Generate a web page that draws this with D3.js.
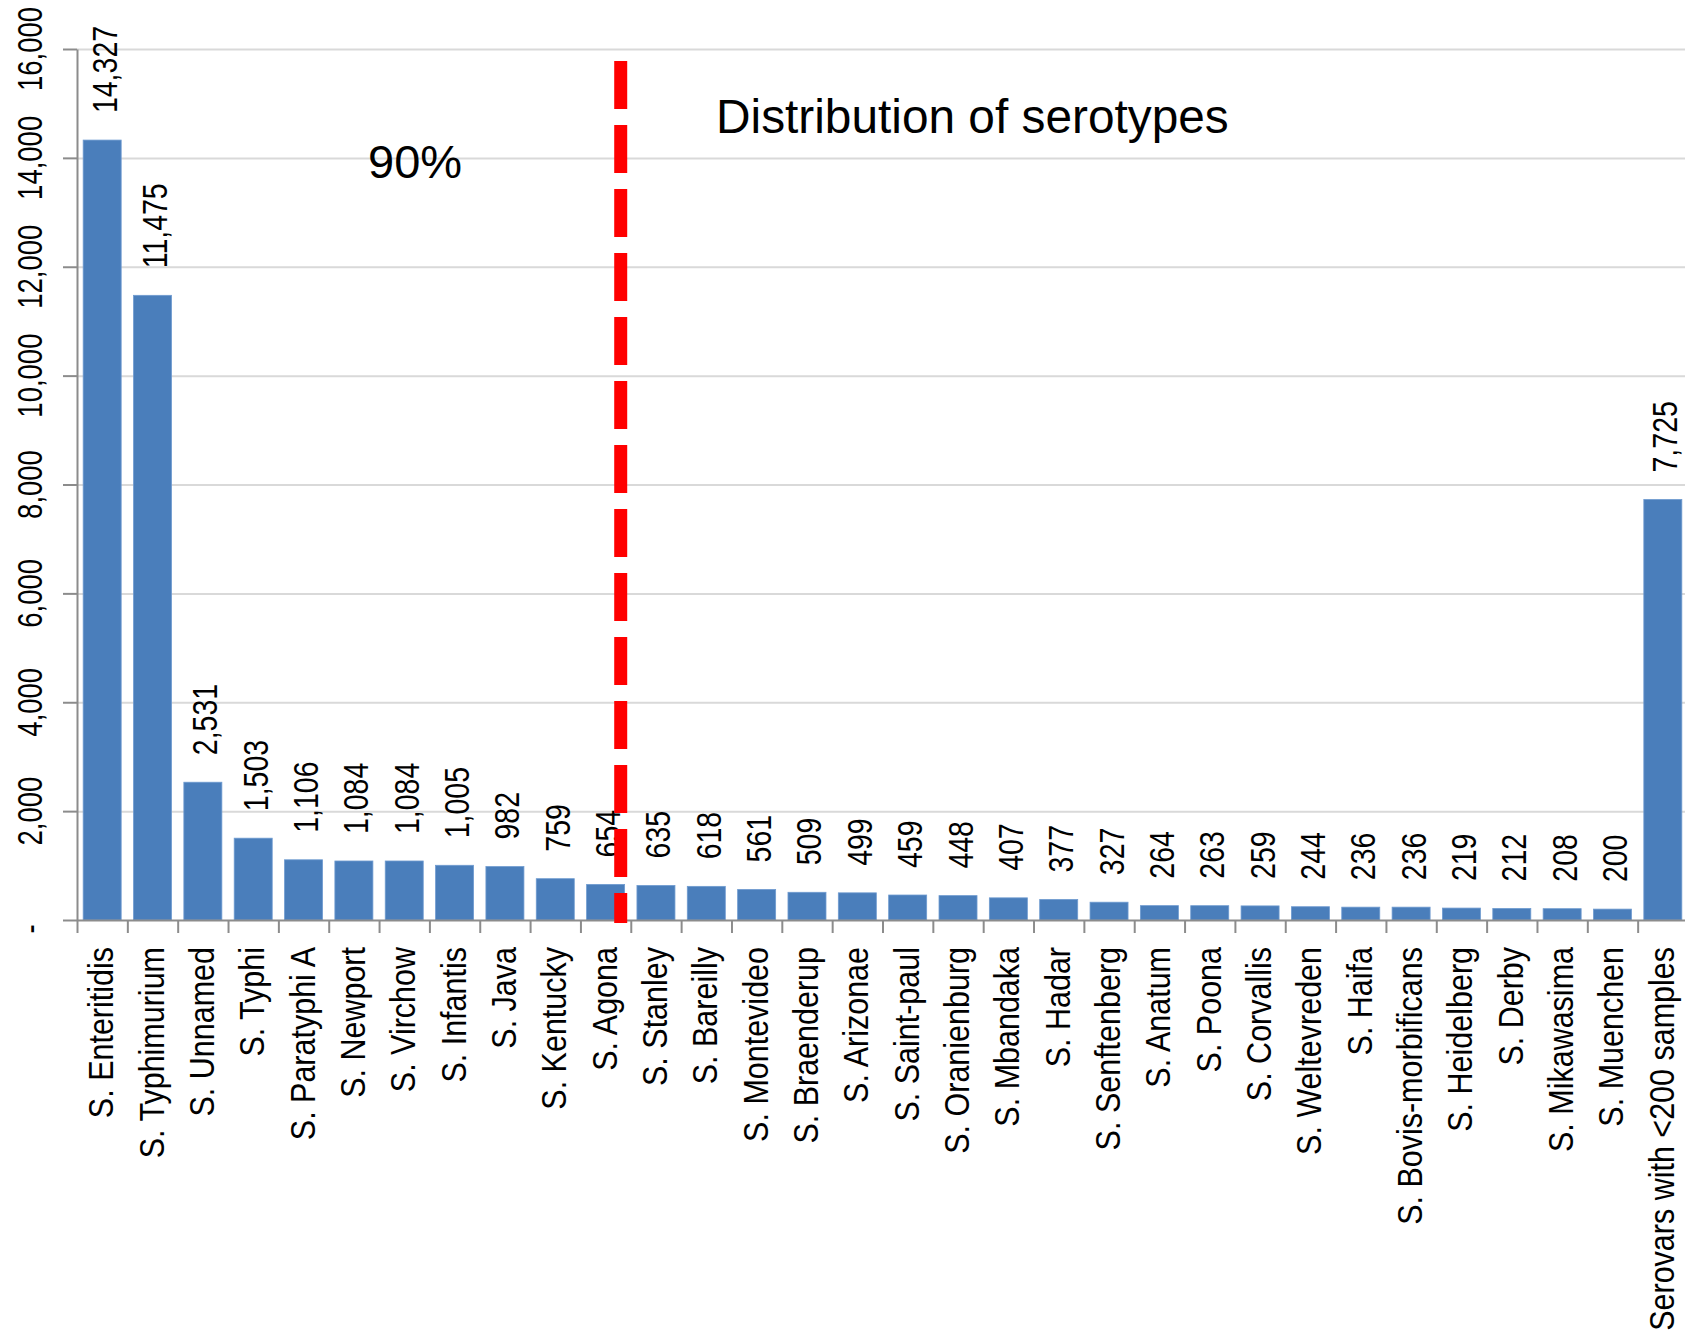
<!DOCTYPE html>
<html>
<head>
<meta charset="utf-8">
<script src="https://cdnjs.cloudflare.com/ajax/libs/d3/7.8.5/d3.min.js"></script>
<style>
    body { margin: 0; background: #fff; }
    svg { display: block; }
    text { font-family: "Liberation Sans", Arial, sans-serif; fill: #000; }
</style>
</head>
<body>
<svg id="chart" width="1685" height="1330"></svg>
<script>
var serotypes = ["S. Enteritidis", "S. Typhimurium", "S. Unnamed", "S. Typhi", "S. Paratyphi A",
    "S. Newport", "S. Virchow", "S. Infantis", "S. Java", "S. Kentucky", "S. Agona", "S. Stanley",
    "S. Bareilly", "S. Montevideo", "S. Braenderup", "S. Arizonae", "S. Saint-paul", "S. Oranienburg",
    "S. Mbandaka", "S. Hadar", "S. Senftenberg", "S. Anatum", "S. Poona", "S. Corvallis",
    "S. Weltevreden", "S. Haifa", "S. Bovis-morbificans", "S. Heidelberg", "S. Derby",
    "S. Mikawasima", "S. Muenchen", "Serovars with <200 samples"];
var counts = [14327, 11475, 2531, 1503, 1106, 1084, 1084, 1005, 982, 759, 654, 635,
    618, 561, 509, 499, 459, 448, 407, 377, 327, 264, 263, 259,
    244, 236, 236, 219, 212, 208, 200, 7725];
var yTicks = [0, 2000, 4000, 6000, 8000, 10000, 12000, 14000, 16000];
var titleText = "Distribution of serotypes";
var cutoffText = "90%";
var cutoffPos = 10.8;   // red dashed line, in category units from the left

d3.select(window).on('load', init);

function init() {
    var svg = d3.select('#chart');
    var W = 1685;
    var left = 77, right = 1688, top = 49, bottom = 920;

    var x = d3.scaleBand()
        .domain(serotypes)
        .range([left, right])
        .paddingInner(0.245)
        .paddingOuter(0.1225);
    // index scale for the tick marks between categories
    var xi = d3.scaleLinear().domain([0, serotypes.length]).range([left, right]);
    var y = d3.scaleLinear().domain([0, 16000]).range([bottom, top]);
    var fmt = d3.format(",");

    // gridlines
    svg.append("g")
        .attr("transform", "translate(" + left + ",0)")
        .call(d3.axisLeft(y).tickValues(yTicks.slice(1)).tickSize(-(W - left)).tickFormat(""))
        .call(function(g) {
            g.select(".domain").remove();
            g.selectAll("line").attr("stroke", "#d9d9d9").attr("stroke-width", 2);
        });

    // bars
    svg.append("g").selectAll("rect")
        .data(counts)
        .enter().append("rect")
        .attr("x", function(d, i) { return x(serotypes[i]); })
        .attr("width", x.bandwidth())
        .attr("y", function(d) { return y(d); })
        .attr("height", function(d) { return y(0) - y(d); })
        .attr("fill", "#4a7ebb")
        .attr("stroke", "#6f9bd0")
        .attr("stroke-width", 0.8);

    // y axis
    svg.append("g")
        .attr("transform", "translate(" + left + ",0)")
        .call(d3.axisLeft(y).tickValues(yTicks).tickSize(14).tickSizeOuter(0).tickFormat(""))
        .call(function(g) {
            g.select(".domain").attr("stroke", "#8c8c8c").attr("stroke-width", 2);
            g.selectAll("line").attr("stroke", "#8c8c8c").attr("stroke-width", 2);
        });

    svg.append("g").selectAll("text")
        .data(yTicks)
        .enter().append("text")
        .attr("transform", function(d) {
            var shift = d === 0 ? 9 : 0;
            return "translate(42," + (y(d) + shift) + ") rotate(-90) scale(1,1.27)";
        })
        .attr("text-anchor", "middle")
        .style("font-size", "27.5px")
        .text(function(d) { return d === 0 ? "-" : fmt(d); });

    // x axis: line and ticks between categories
    svg.append("g")
        .attr("transform", "translate(0," + bottom + ")")
        .call(d3.axisBottom(xi).tickValues(d3.range(0, serotypes.length + 1)).tickSize(13).tickSizeOuter(0).tickFormat(""))
        .call(function(g) {
            g.select(".domain").attr("stroke", "#8c8c8c").attr("stroke-width", 2);
            g.selectAll("line").attr("stroke", "#8c8c8c").attr("stroke-width", 2);
        });

    // category labels
    svg.append("g").selectAll("text")
        .data(serotypes)
        .enter().append("text")
        .attr("transform", function(d) {
            return "translate(" + (x(d) + x.bandwidth() / 2 + 11) + ",947) rotate(-90) scale(1,1.18)";
        })
        .attr("text-anchor", "end")
        .style("font-size", "30.5px")
        .text(function(d) { return d; });

    // value labels
    svg.append("g").selectAll("text")
        .data(counts)
        .enter().append("text")
        .attr("transform", function(d, i) {
            return "translate(" + (x(serotypes[i]) + x.bandwidth() / 2 + 14.5) + "," + (y(d) - 27) + ") rotate(-90) scale(1,1.2)";
        })
        .attr("text-anchor", "start")
        .style("font-size", "28.5px")
        .text(function(d) { return fmt(d); });

    // 90% cut-off line
    svg.append("line")
        .attr("x1", xi(cutoffPos)).attr("x2", xi(cutoffPos))
        .attr("y1", y(15780)).attr("y2", y(-55))
        .attr("stroke", "#ff0000")
        .attr("stroke-width", 13)
        .attr("stroke-dasharray", "48,16");

    svg.append("text")
        .attr("x", 368).attr("y", 178)
        .style("font-size", "47px")
        .text(cutoffText);

    svg.append("text")
        .attr("x", 716).attr("y", 133)
        .style("font-size", "47.8px")
        .text(titleText);
}
</script>
</body>
</html>
